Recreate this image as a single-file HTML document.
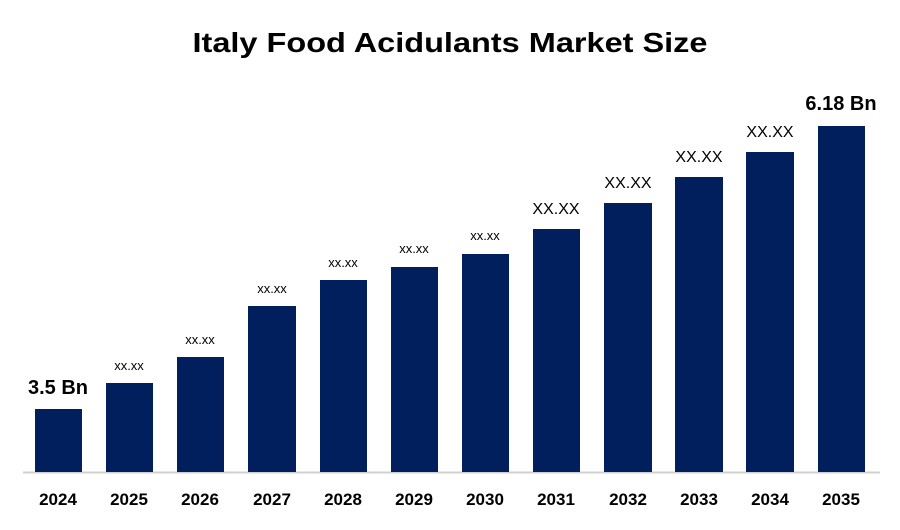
<!DOCTYPE html>
<html><head><style>
body{margin:0;background:#fff;}
svg text{font-family:"Liberation Sans",sans-serif;}
</style></head><body>
<svg width="900" height="525" xmlns="http://www.w3.org/2000/svg">
<text x="450" y="52" text-anchor="middle" font-size="28" font-weight="bold" fill="#000" textLength="515" lengthAdjust="spacingAndGlyphs">Italy Food Acidulants Market Size</text>
<line x1="23" y1="472.5" x2="880" y2="472.5" stroke="#d0d0d0" stroke-width="2"/>
<g fill="#001f5c">
<rect x="35" y="409" width="47" height="63"/>
<rect x="106" y="383" width="47" height="89"/>
<rect x="177" y="357" width="47" height="115"/>
<rect x="248" y="306" width="48" height="166"/>
<rect x="320" y="280" width="47" height="192"/>
<rect x="391" y="267" width="47" height="205"/>
<rect x="462" y="254" width="47" height="218"/>
<rect x="533" y="229" width="47" height="243"/>
<rect x="604" y="203" width="48" height="269"/>
<rect x="675" y="177" width="48" height="295"/>
<rect x="746" y="152" width="48" height="320"/>
<rect x="818" y="126" width="47" height="346"/>
</g>
<g font-size="17" font-weight="bold" text-anchor="middle" fill="#000">
<text x="58" y="505">2024</text><text x="129" y="505">2025</text><text x="200" y="505">2026</text>
<text x="272" y="505">2027</text><text x="343" y="505">2028</text><text x="414" y="505">2029</text>
<text x="485" y="505">2030</text><text x="556" y="505">2031</text><text x="628" y="505">2032</text>
<text x="699" y="505">2033</text><text x="770" y="505">2034</text><text x="841" y="505">2035</text>
</g>
<g text-anchor="middle" fill="#000">
<text x="58" y="394" font-size="20" font-weight="bold">3.5 Bn</text>
<text x="129" y="370" font-size="13">xx.xx</text>
<text x="200" y="344" font-size="13">xx.xx</text>
<text x="272" y="293" font-size="13">xx.xx</text>
<text x="343" y="267" font-size="13">xx.xx</text>
<text x="414" y="253" font-size="13">xx.xx</text>
<text x="485" y="240" font-size="13">xx.xx</text>
<text x="556" y="214" font-size="16">XX.XX</text>
<text x="628" y="188" font-size="16">XX.XX</text>
<text x="699" y="162" font-size="16">XX.XX</text>
<text x="770" y="137" font-size="16">XX.XX</text>
<text x="841" y="110" font-size="20" font-weight="bold">6.18 Bn</text>
</g>
</svg>
</body></html>
